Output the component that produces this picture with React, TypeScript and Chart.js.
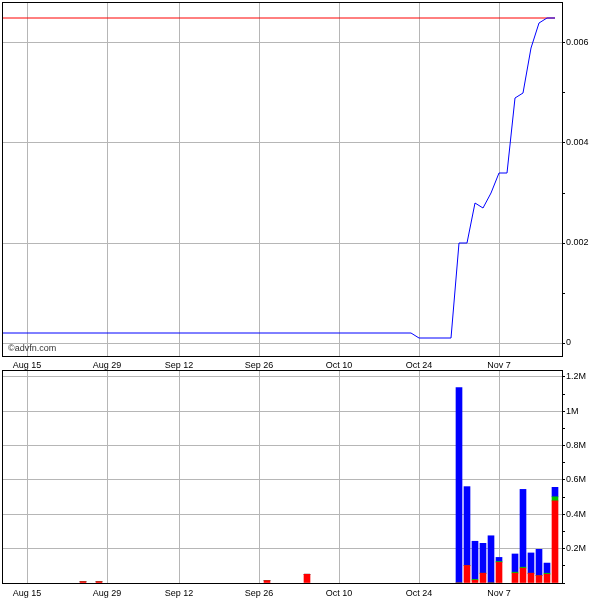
import { useEffect, useRef } from "react";
import { Chart, registerables } from "chart.js";

Chart.register(...registerables);

// Trading days shown on the x axis (Labor Day excluded)
const days = [
  "Aug 10", "Aug 11", "Aug 12", "Aug 15", "Aug 16", "Aug 17", "Aug 18", "Aug 19",
  "Aug 22", "Aug 23", "Aug 24", "Aug 25", "Aug 26", "Aug 29", "Aug 30", "Aug 31",
  "Sep 1", "Sep 2", "Sep 6", "Sep 7", "Sep 8", "Sep 9", "Sep 12", "Sep 13", "Sep 14",
  "Sep 15", "Sep 16", "Sep 19", "Sep 20", "Sep 21", "Sep 22", "Sep 23", "Sep 26",
  "Sep 27", "Sep 28", "Sep 29", "Sep 30",
  "Oct 3", "Oct 4", "Oct 5", "Oct 6", "Oct 7", "Oct 10", "Oct 11", "Oct 12", "Oct 13",
  "Oct 14", "Oct 17", "Oct 18", "Oct 19", "Oct 20", "Oct 21", "Oct 24", "Oct 25",
  "Oct 26", "Oct 27", "Oct 28", "Oct 31",
  "Nov 1", "Nov 2", "Nov 3", "Nov 4", "Nov 7", "Nov 8", "Nov 9", "Nov 10", "Nov 11",
  "Nov 14", "Nov 15", "Nov 16", "Nov 17",
];

const xTickLabels = ["Aug 15", "Aug 29", "Sep 12", "Sep 26", "Oct 10", "Oct 24", "Nov 7"];

// Price line
const priceDates = [
  "Aug 10", "Oct 21", "Oct 24", "Oct 28", "Oct 31", "Nov 1", "Nov 2", "Nov 3", "Nov 4",
  "Nov 7", "Nov 8", "Nov 9", "Nov 10", "Nov 11", "Nov 14", "Nov 15", "Nov 16",
];
const priceValues = [
  0.0002, 0.0002, 0.0001, 0.0001, 0.002, 0.002, 0.0028, 0.0027, 0.003,
  0.0034, 0.0034, 0.0049, 0.005, 0.0059, 0.0064, 0.0065, 0.0065,
];
const lastPrice = 0.0065;

const priceTicks = [0, 0.001, 0.002, 0.003, 0.004, 0.005, 0.006];
const priceLabelTicks = [0, 0.002, 0.004, 0.006];

// Volume bars (stacked red / green / blue)
const volDates = [
  "Aug 24", "Aug 26", "Sep 27", "Oct 4", "Oct 31", "Nov 1", "Nov 2", "Nov 3", "Nov 4",
  "Nov 7", "Nov 9", "Nov 10", "Nov 11", "Nov 14", "Nov 15", "Nov 16",
];
const volRed = [
  8000, 8000, 14000, 51000, 0, 102000, 16000, 57000, 0,
  120000, 57000, 86000, 57000, 43000, 51000, 478000,
];
const volGreen = [
  0, 0, 0, 0, 0, 0, 5000, 0, 0,
  5000, 6000, 6000, 0, 0, 6000, 24000,
];
const volBlue = [
  0, 0, 0, 0, 1137000, 459000, 222000, 174000, 275000,
  24000, 106000, 453000, 118000, 153000, 59000, 55000,
];

const volTicks = [0, 100000, 200000, 300000, 400000, 500000, 600000, 700000, 800000, 900000, 1000000, 1100000, 1200000];
const volLabels = ["", "", "0.2M", "", "0.4M", "", "0.6M", "", "0.8M", "", "1M", "", "1.2M"];

const FONT = { family: "Arial, 'Liberation Sans', sans-serif", size: 9 };
const GRID = "#b6b6b6";

const framePlugin = {
  id: "frame",
  afterDatasetsDraw(chart: any) {
    const { ctx, chartArea: a } = chart;
    ctx.save();
    ctx.strokeStyle = "#000";
    ctx.lineWidth = 1;
    ctx.strokeRect(a.left + 0.5, a.top + 0.5, a.right - a.left, a.bottom - a.top);
    ctx.restore();
  },
};

const watermarkPlugin = {
  id: "watermark",
  beforeDatasetsDraw(chart: any, _args: any, opts: any) {
    if (!opts || !opts.text) return;
    const { ctx, chartArea: a } = chart;
    ctx.save();
    ctx.fillStyle = "#333";
    ctx.font = `9px ${FONT.family}`;
    ctx.textBaseline = "alphabetic";
    ctx.fillText(opts.text, a.left + 6, a.bottom - 5);
    ctx.restore();
  },
};

const idx = (d: string) => days.indexOf(d);
const X_MIN = -0.125;
const X_MAX = days.length - 1 - 0.125;

function noPad(s: any) {
  s.paddingTop = 0;
  s.paddingBottom = 0;
  s.paddingLeft = 0;
  s.paddingRight = 0;
}

function xScale(height: number, pad: number) {
  return {
    type: "linear" as const,
    min: X_MIN,
    max: X_MAX,
    offset: false,
    border: { display: false },
    grid: { color: GRID, drawTicks: false, offset: false },
    ticks: {
      font: FONT,
      color: "#000",
      padding: pad,
      maxRotation: 0,
      autoSkip: false,
      callback: (v: any) => days[Math.round(v)] ?? "",
    },
    afterBuildTicks: (s: any) => {
      s.ticks = xTickLabels.map((l) => ({ value: idx(l) }));
    },
    afterFit: (s: any) => {
      s.height = height;
      noPad(s);
    },
  };
}

export default function App() {
  const topRef = useRef<HTMLCanvasElement>(null);
  const botRef = useRef<HTMLCanvasElement>(null);

  useEffect(() => {
    document.body.style.margin = "0";

    const top = new Chart(topRef.current!, {
      type: "line",
      data: {
        datasets: [
          {
            data: priceDates.map((d, i) => ({ x: idx(d), y: priceValues[i] })),
            borderColor: "#0000ff",
            borderWidth: 1,
            pointRadius: 0,
            tension: 0,
          },
          {
            data: [
              { x: idx(priceDates[0]), y: lastPrice },
              { x: idx(priceDates[priceDates.length - 1]), y: lastPrice },
            ],
            borderColor: "#ff0000",
            borderWidth: 1,
            pointRadius: 0,
          },
        ],
      },
      options: {
        animation: false,
        responsive: false,
        layout: { autoPadding: false, padding: { left: 2, top: 2, right: 0, bottom: 0 } },
        plugins: {
          legend: { display: false },
          tooltip: { enabled: false },
          watermark: { text: "©advfn.com" },
        } as any,
        scales: {
          x: xScale(18, 4),
          y: {
            type: "linear",
            position: "right",
            min: -0.00026,
            max: 0.00682,
            border: { display: false },
            grid: {
              color: (c: any) =>
                priceLabelTicks.includes(Math.round(c.tick?.value * 10000) / 10000) ? GRID : "rgba(0,0,0,0)",
              tickColor: "#000",
              tickLength: 3,
            },
            ticks: {
              font: FONT,
              color: "#000",
              padding: 1,
              callback: (v: any) => {
                const r = Math.round(v * 10000) / 10000;
                return priceLabelTicks.includes(r) ? String(r) : "";
              },
            },
            afterBuildTicks: (s: any) => {
              s.ticks = priceTicks.map((v) => ({ value: v }));
            },
            afterFit: (s: any) => {
              s.width = 38;
              noPad(s);
            },
          },
        },
      },
      plugins: [framePlugin, watermarkPlugin],
    });

    const barDs = (vals: number[], color: string) => ({
      data: volDates.map((d, i) => ({ x: idx(d), y: vals[i] })),
      backgroundColor: color,
      borderWidth: 0,
      barThickness: 6,
    });

    const bot = new Chart(botRef.current!, {
      type: "bar",
      data: {
        datasets: [
          barDs(volRed, "#ff0000"),
          barDs(volGreen, "#00c000"),
          barDs(volBlue, "#0000ff"),
        ],
      },
      options: {
        animation: false,
        responsive: false,
        layout: { autoPadding: false, padding: { left: 2, top: 2, right: 0, bottom: 0 } },
        plugins: { legend: { display: false }, tooltip: { enabled: false } },
        scales: {
          x: { ...xScale(17, 5), stacked: true },
          y: {
            type: "linear",
            position: "right",
            stacked: true,
            min: 0,
            max: 1240000,
            border: { display: false },
            grid: {
              color: (c: any) => {
                const i = volTicks.indexOf(c.tick?.value);
                return i > 0 && volLabels[i] ? GRID : "rgba(0,0,0,0)";
              },
              tickColor: "#000",
              tickLength: 3,
            },
            ticks: {
              font: FONT,
              color: "#000",
              padding: 1,
              callback: (v: any) => {
                const i = volTicks.indexOf(v);
                return i >= 0 ? volLabels[i] : "";
              },
            },
            afterBuildTicks: (s: any) => {
              s.ticks = volTicks.map((v) => ({ value: v }));
            },
            afterFit: (s: any) => {
              s.width = 38;
              noPad(s);
            },
          },
        },
      },
      plugins: [framePlugin],
    });

    return () => {
      top.destroy();
      bot.destroy();
    };
  }, []);

  return (
    <div style={{ position: "relative", width: 600, height: 600, background: "#fff" }}>
      <canvas
        ref={topRef}
        width={600}
        height={374}
        style={{ position: "absolute", left: 0, top: 0, width: 600, height: 374 }}
      />
      <canvas
        ref={botRef}
        width={600}
        height={232}
        style={{ position: "absolute", left: 0, top: 368, width: 600, height: 232 }}
      />
    </div>
  );
}
